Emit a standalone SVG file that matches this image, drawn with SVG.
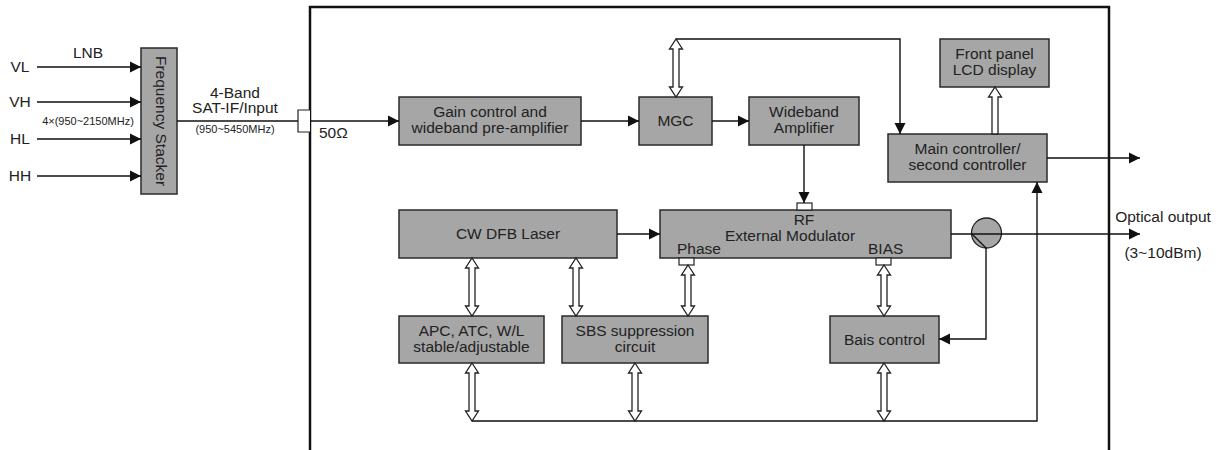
<svg xmlns="http://www.w3.org/2000/svg" width="1223" height="450" viewBox="0 0 1223 450">
<style>
text{font-family:"Liberation Sans",Arial,sans-serif;font-size:15.5px;fill:#222}
.c{text-anchor:middle}
.s{font-size:11px}
.box{fill:#a6a6a6;stroke:#2a2a2a;stroke-width:1.5}
.ln{fill:none;stroke:#111;stroke-width:1.4}
.ho{fill:#fff;stroke:#222;stroke-width:1.3;stroke-linejoin:miter}
.pin{fill:#fff;stroke:#222;stroke-width:1.2}
</style>
<defs>
<marker id="ah" viewBox="0 0 12 12" refX="11" refY="6" markerWidth="12" markerHeight="12" markerUnits="userSpaceOnUse" orient="auto">
<path d="M0,0.5 L11,6 L0,11.5 Z" fill="#111"/>
</marker>
</defs>
<rect width="1223" height="450" fill="#fff"/>
<path d="M310,452 V7 H1109 V452" fill="none" stroke="#111" stroke-width="2.5"/>

<g id="inputs">
<text x="20" y="72" class="c">VL</text>
<text x="20" y="107" class="c">VH</text>
<text x="20" y="144" class="c">HL</text>
<text x="20" y="181" class="c">HH</text>
<text x="88" y="58" class="c">LNB</text>
<text x="88" y="125" class="c s">4×(950~2150MHz)</text>
</g>

<g id="stacker">
<rect class="box" x="141" y="48" width="36" height="146"/>
<text class="c" transform="translate(156,121) rotate(90)">Frequency Stacker</text>
</g>

<g id="input-labels">
<text x="235" y="98" class="c">4-Band</text>
<text x="235" y="113" class="c">SAT-IF/Input</text>
<text x="235" y="133" class="c s">(950~5450MHz)</text>
<text x="319" y="138">50Ω</text>
</g>

<g id="gain">
<rect class="box" x="399" y="97" width="182" height="48"/>
<text x="490" y="117" class="c">Gain control and</text>
<text x="490" y="133" class="c">wideband pre-amplifier</text>
</g>
<g id="mgc">
<rect class="box" x="639" y="97" width="73" height="48"/>
<text x="675.5" y="126" class="c">MGC</text>
</g>
<g id="wideband">
<rect class="box" x="749" y="97" width="110" height="48"/>
<text x="804" y="117" class="c">Wideband</text>
<text x="804" y="133" class="c">Amplifier</text>
</g>
<g id="lcd">
<rect class="box" x="940" y="39" width="109" height="48"/>
<text x="994.5" y="59" class="c">Front panel</text>
<text x="994.5" y="75" class="c">LCD display</text>
</g>
<g id="main">
<rect class="box" x="888" y="134" width="159" height="48"/>
<text x="967.5" y="154" class="c">Main controller/</text>
<text x="967.5" y="170" class="c">second controller</text>
</g>
<g id="laser">
<rect class="box" x="399" y="210" width="218" height="48"/>
<text x="508" y="239" class="c">CW DFB Laser</text>
</g>
<g id="modulator">
<rect class="box" x="660" y="210" width="291" height="48"/>
<text x="804" y="225" class="c">RF</text>
<text x="790" y="241" class="c">External Modulator</text>
<text x="677" y="254">Phase</text>
<text x="868" y="254">BIAS</text>
<rect class="pin" x="797" y="203" width="15" height="7"/>
<rect class="pin" x="679" y="258" width="15" height="7"/>
<rect class="pin" x="876" y="258" width="15" height="7"/>
</g>
<g id="apc">
<rect class="box" x="399" y="316" width="145" height="47"/>
<text x="471.5" y="336" class="c">APC, ATC, W/L</text>
<text x="471.5" y="352" class="c">stable/adjustable</text>
</g>
<g id="sbs">
<rect class="box" x="562" y="316" width="146" height="47"/>
<text x="635" y="336" class="c">SBS suppression</text>
<text x="635" y="352" class="c">circuit</text>
</g>
<g id="bais">
<rect class="box" x="830" y="316" width="109" height="47"/>
<text x="884.5" y="345" class="c">Bais control</text>
</g>
<g id="coupler">
<circle cx="986.5" cy="233" r="15" fill="#a6a6a6" stroke="#222" stroke-width="1.3"/>
</g>

<g id="connectors">
<path class="ln" d="M37,67 H141" marker-end="url(#ah)"/>
<path class="ln" d="M37,102 H141" marker-end="url(#ah)"/>
<path class="ln" d="M37,139 H141" marker-end="url(#ah)"/>
<path class="ln" d="M37,176 H141" marker-end="url(#ah)"/>
<path class="ln" d="M177,121 H399" marker-end="url(#ah)"/>
<path class="pin" d="M310,110 H298 V132 H310" fill="none"/>
<path class="ln" d="M581,121 H639" marker-end="url(#ah)"/>
<path class="ln" d="M712,121 H749" marker-end="url(#ah)"/>
<path class="ln" d="M804,145 V203" marker-end="url(#ah)"/>
<path class="ln" d="M676,39 H900 V134" marker-end="url(#ah)"/>
<path class="ln" d="M1047,158 H1140" marker-end="url(#ah)"/>
<path class="ln" d="M617,234 H660" marker-end="url(#ah)"/>
<path class="ln" d="M951,234 H1140" marker-end="url(#ah)"/>
<path class="ln" d="M972,234 L986,248 V339 H939" marker-end="url(#ah)"/>
<path class="ln" d="M472,421 H1037 V182" marker-end="url(#ah)"/>
<path class="ho" d="M676,39 L682.5,49 L679,49 L679,87 L682.5,87 L676,97 L669.5,87 L673,87 L673,49 L669.5,49 Z"/>
<path class="ho" d="M995,87 L1001.5,97 L998,97 L998,134 L992,134 L992,97 L988.5,97 Z"/>
<path class="ho" d="M472,258 L478.5,268 L475,268 L475,306 L478.5,306 L472,316 L465.5,306 L469,306 L469,268 L465.5,268 Z"/>
<path class="ho" d="M576,258 L582.5,268 L579,268 L579,306 L582.5,306 L576,316 L569.5,306 L573,306 L573,268 L569.5,268 Z"/>
<path class="ho" d="M688,265 L694.5,275 L691,275 L691,306 L694.5,306 L688,316 L681.5,306 L685,306 L685,275 L681.5,275 Z"/>
<path class="ho" d="M884,265 L890.5,275 L887,275 L887,306 L890.5,306 L884,316 L877.5,306 L881,306 L881,275 L877.5,275 Z"/>
<path class="ho" d="M472,363 L478.5,373 L475,373 L475,411 L478.5,411 L472,421 L465.5,411 L469,411 L469,373 L465.5,373 Z"/>
<path class="ho" d="M635,363 L641.5,373 L638,373 L638,411 L641.5,411 L635,421 L628.5,411 L632,411 L632,373 L628.5,373 Z"/>
<path class="ho" d="M884,363 L890.5,373 L887,373 L887,411 L890.5,411 L884,421 L877.5,411 L881,411 L881,373 L877.5,373 Z"/>
</g>

<g id="output-labels">
<text x="1163" y="222" class="c">Optical output</text>
<text x="1163" y="258" class="c">(3~10dBm)</text>
</g>
</svg>
